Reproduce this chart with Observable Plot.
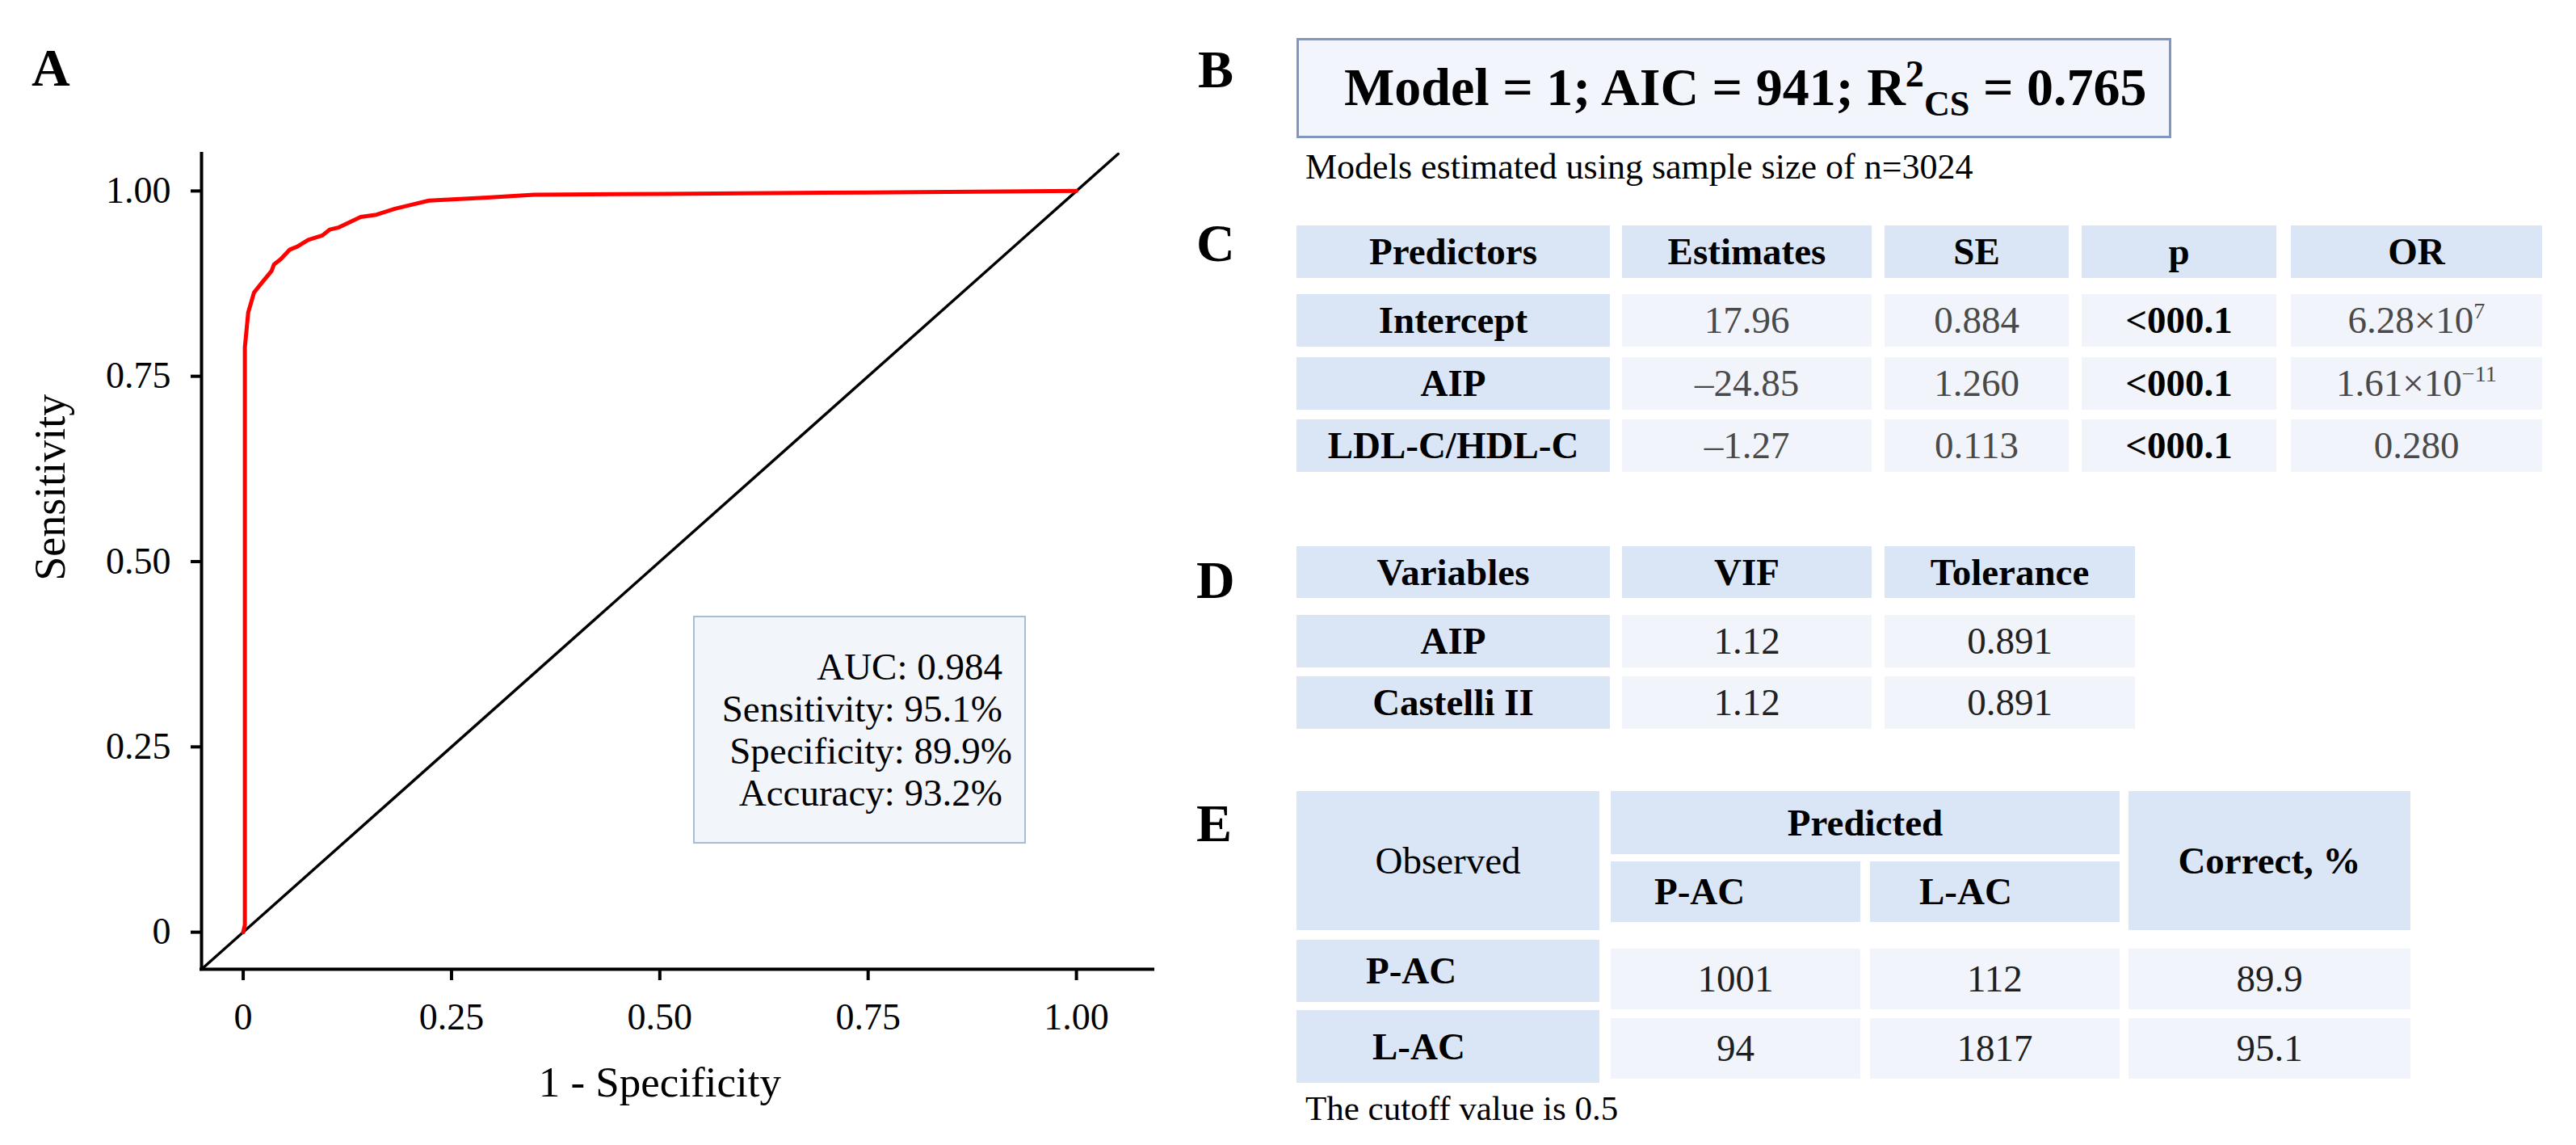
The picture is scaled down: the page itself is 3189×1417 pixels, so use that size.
<!DOCTYPE html>
<html><head><meta charset="utf-8">
<script src="https://cdn.jsdelivr.net/npm/d3@7"></script>
<script src="https://cdn.jsdelivr.net/npm/@observablehq/plot@0.6"></script>
<style>
html,body{margin:0;padding:0;background:#fff;}
#root{position:relative;width:3189px;height:1417px;overflow:hidden;font-family:"Liberation Serif",serif;color:#000;background:#fff;}
.abs{position:absolute;white-space:nowrap;line-height:1;}
.cell{position:absolute;display:flex;align-items:center;white-space:nowrap;line-height:1;box-sizing:border-box;}
.sup,.sub{line-height:0;position:relative;}
</style></head><body><div id="root"></div>
<script>
// ---------- DATA ----------
// ROC curve (1 - specificity, sensitivity)
const rocFpr = [0, 0.002, 0.002, 0.006, 0.013, 0.023, 0.034, 0.037, 0.045, 0.056, 0.065, 0.078, 0.095, 0.104, 0.115, 0.141, 0.160, 0.182, 0.204, 0.223, 0.293, 0.349, 0.504, 0.75, 1.0];
const rocTpr = [0, 0.010, 0.789, 0.836, 0.863, 0.877, 0.892, 0.901, 0.908, 0.921, 0.925, 0.934, 0.940, 0.948, 0.951, 0.965, 0.968, 0.976, 0.982, 0.987, 0.991, 0.995, 0.996, 0.998, 1.0];
const diagonal = [-0.05, 1.05];
const tickValues = [0, 0.25, 0.5, 0.75, 1];
const tickLabels = ["0", "0.25", "0.50", "0.75", "1.00"];
const xLabel = "1 - Specificity";
const yLabel = "Sensitivity";
const rocStatLabels = ["AUC: 0.984", "Sensitivity: 95.1%", "Specificity: 89.9%", "Accuracy: 93.2%"];

// Panel B
const modelNumber = 1, aic = 941, r2cs = "0.765", sampleSize = 3024;

// Panel C
const cHeaders = ["Predictors", "Estimates", "SE", "p", "OR"];
const predictors = ["Intercept", "AIP", "LDL-C/HDL-C"];
const estimates = ["17.96", "\u201324.85", "\u20131.27"];
const standardErrors = ["0.884", "1.260", "0.113"];
const pValues = ["<000.1", "<000.1", "<000.1"];
const orMantissa = ["6.28", "1.61", "0.280"];
const orExponent = ["7", "\u221211", null];

// Panel D
const dHeaders = ["Variables", "VIF", "Tolerance"];
const variables = ["AIP", "Castelli II"];
const vif = ["1.12", "1.12"];
const tolerance = ["0.891", "0.891"];

// Panel E
const observedClasses = ["P-AC", "L-AC"];
const predictedCounts = [[1001, 112], [94, 1817]];
const correctPct = ["89.9", "95.1"];
const cutoff = 0.5;

// ---------- ROC PLOT ----------
const root = document.getElementById("root");
const rocPoints = rocFpr.map((f, i) => ({fpr: f, tpr: rocTpr[i]}));
const fmt = d => tickLabels[tickValues.indexOf(d)];

const chart = Plot.plot({
  width: 1450, height: 1417,
  marginLeft: 249, marginRight: 23, marginTop: 190, marginBottom: 218,
  x: {domain: [-0.05, 1.092]},
  y: {domain: [-0.05, 1.05]},
  style: {fontFamily: "Liberation Serif", fontSize: "46px", color: "#000", background: "transparent", overflow: "visible"},
  marks: [
    Plot.line(diagonal, {x: d => d, y: d => d, stroke: "#000", strokeWidth: 3.5}),
    Plot.line(rocPoints, {x: "fpr", y: "tpr", stroke: "#ff0000", strokeWidth: 5}),
    Plot.ruleX([-0.05], {stroke: "#000", strokeWidth: 4, strokeLinecap: "square"}),
    Plot.ruleY([-0.05], {stroke: "#000", strokeWidth: 4, strokeLinecap: "square"}),
    Plot.axisX({ticks: tickValues, tickFormat: fmt, tickSize: 14, tickPadding: 28, strokeWidth: 4, fontSize: 46, label: null}),
    Plot.axisY({ticks: tickValues, tickFormat: fmt, tickSize: 13, tickPadding: 25, strokeWidth: 4, fontSize: 46, label: null}),
    Plot.text([xLabel], {x: 0.5, frameAnchor: "bottom", dy: 141, fontSize: 53, lineAnchor: "middle", text: d => d}),
    Plot.text([yLabel], {y: 0.474, frameAnchor: "left", dx: -187, rotate: -90, fontSize: 54, lineAnchor: "middle", text: d => d})
  ]
});
chart.style.position = "absolute";
chart.style.left = "0px";
chart.style.top = "0px";
root.appendChild(chart);

// ---------- HTML helpers ----------
const ASC = 0.8375;
function txt(x, baseline, fs, html, {bold = false, color = "#000", right = false} = {}) {
  const el = document.createElement("div");
  el.className = "abs";
  el.style.fontSize = fs + "px";
  el.style.top = (baseline - ASC * fs) + "px";
  if (right) el.style.right = (3189 - x) + "px"; else el.style.left = x + "px";
  el.style.fontWeight = bold ? "bold" : "normal";
  el.style.color = color;
  el.innerHTML = html;
  root.appendChild(el);
  return el;
}
function box(x0, y0, x1, y1, bg, border) {
  const el = document.createElement("div");
  el.style.position = "absolute";
  el.style.boxSizing = "border-box";
  el.style.left = x0 + "px"; el.style.top = y0 + "px";
  el.style.width = (x1 - x0) + "px"; el.style.height = (y1 - y0) + "px";
  el.style.background = bg;
  if (border) el.style.border = border;
  root.appendChild(el);
  return el;
}
function cell(x0, x1, y0, y1, bg, html, {bold = false, color = "#000", fs = 47, align = "center", pad = 0} = {}) {
  const el = document.createElement("div");
  el.className = "cell";
  el.style.left = x0 + "px"; el.style.top = y0 + "px";
  el.style.width = (x1 - x0) + "px"; el.style.height = (y1 - y0) + "px";
  el.style.background = bg;
  el.style.fontSize = fs + "px";
  el.style.fontWeight = bold ? "bold" : "normal";
  el.style.color = color;
  el.style.justifyContent = align === "left" ? "flex-start" : "center";
  el.style.paddingLeft = pad + "px";
  const inner = document.createElement("span");
  inner.innerHTML = html;
  el.appendChild(inner);
  root.appendChild(el);
  return el;
}
const esc = s => String(s).replace(/&/g, "&amp;").replace(/</g, "&lt;").replace(/>/g, "&gt;");
const HEAD = "#dae6f6", LIGHT = "#f1f5fb";

// ---------- ROC legend box ----------
box(858, 762, 1270, 1044, "#f2f5fa", "2px solid #a9bbd9");
const statRight = [1241, 1241, 1253, 1241];
rocStatLabels.forEach((s, i) => txt(statRight[i], 841 + i * 52, 47, esc(s), {right: true}));

// ---------- Panel letters ----------
txt(39, 106, 66, "A", {bold: true});
txt(1483, 108, 66, "B", {bold: true});
txt(1481, 323, 66, "C", {bold: true});
txt(1481, 740, 66, "D", {bold: true});
txt(1481, 1041, 66, "E", {bold: true});

// ---------- Panel B ----------
box(1605, 47, 2688, 171, "#f2f5fb", "3px solid #8097c0");
txt(1664, 130, 66,
  `Model = ${modelNumber}; AIC = ${aic}; R<span class="sup" style="font-size:0.7em;top:-0.5em">2</span><span class="sub" style="font-size:0.67em;top:0.3em">CS</span> = ${r2cs}`,
  {bold: true});
txt(1616, 222, 44, `Models estimated using sample size of n=${sampleSize}`);

// ---------- Panel C ----------
const cCols = [[1605, 1993], [2008, 2317], [2333, 2561], [2577, 2818], [2836, 3147]];
const cRows = [[364, 429], [442, 507], [519, 584]];
cHeaders.forEach((h, j) => cell(cCols[j][0], cCols[j][1], 279, 344, HEAD, esc(h), {bold: true}));
predictors.forEach((p, i) => {
  const [y0, y1] = cRows[i];
  cell(cCols[0][0], cCols[0][1], y0, y1, HEAD, esc(p), {bold: true});
  cell(cCols[1][0], cCols[1][1], y0, y1, LIGHT, esc(estimates[i]), {color: "#4a4a4a"});
  cell(cCols[2][0], cCols[2][1], y0, y1, LIGHT, esc(standardErrors[i]), {color: "#4a4a4a"});
  cell(cCols[3][0], cCols[3][1], y0, y1, LIGHT, esc(pValues[i]), {bold: true});
  const orHtml = esc(orMantissa[i]) + (orExponent[i] !== null
    ? `\u00d710<span class="sup" style="font-size:0.6em;top:-0.65em">${orExponent[i]}</span>` : "");
  cell(cCols[4][0], cCols[4][1], y0, y1, LIGHT, orHtml, {color: "#4a4a4a"});
});

// ---------- Panel D ----------
const dCols = [[1605, 1993], [2008, 2317], [2333, 2643]];
const dRows = [[761, 826], [837, 902]];
dHeaders.forEach((h, j) => cell(dCols[j][0], dCols[j][1], 676, 740, HEAD, esc(h), {bold: true}));
variables.forEach((v, i) => {
  const [y0, y1] = dRows[i];
  cell(dCols[0][0], dCols[0][1], y0, y1, HEAD, esc(v), {bold: true});
  cell(dCols[1][0], dCols[1][1], y0, y1, LIGHT, esc(vif[i]), {color: "#222"});
  cell(dCols[2][0], dCols[2][1], y0, y1, LIGHT, esc(tolerance[i]), {color: "#222"});
});

// ---------- Panel E ----------
cell(1605, 1980, 979, 1151, HEAD, "Observed");
cell(1994, 2624, 979, 1057, HEAD, "Predicted", {bold: true});
cell(1994, 2303, 1066, 1141, HEAD, esc(observedClasses[0]), {bold: true, align: "left", pad: 54});
cell(2315, 2624, 1066, 1141, HEAD, esc(observedClasses[1]), {bold: true, align: "left", pad: 61});
cell(2635, 2984, 979, 1151, HEAD, "Correct, %", {bold: true});
const eLabelRows = [[1163, 1240], [1250, 1340]];
const eDataRows = [[1174, 1249], [1260, 1335]];
const eDataCols = [[1994, 2303], [2315, 2624], [2635, 2984]];
const eLabelPad = [86, 94];
observedClasses.forEach((c, i) => {
  cell(1605, 1980, eLabelRows[i][0], eLabelRows[i][1], HEAD, esc(c), {bold: true, align: "left", pad: eLabelPad[i]});
  const vals = [predictedCounts[i][0], predictedCounts[i][1], correctPct[i]];
  vals.forEach((v, j) => cell(eDataCols[j][0], eDataCols[j][1], eDataRows[i][0], eDataRows[i][1], LIGHT, esc(v), {color: "#1f1f1f"}));
});
txt(1616, 1386, 43, `The cutoff value is ${cutoff}`);
</script>
</body></html>
